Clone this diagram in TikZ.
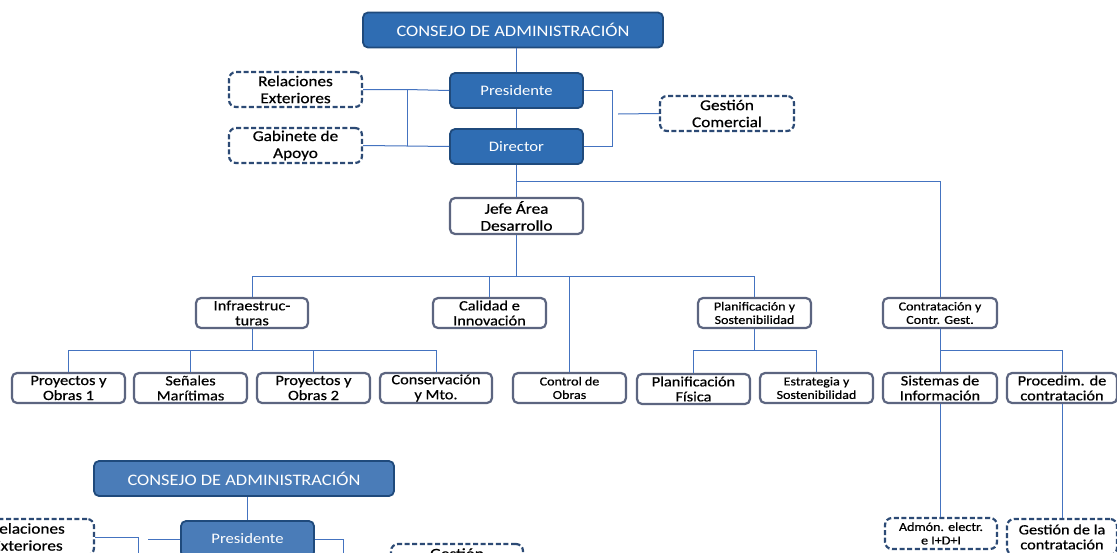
\documentclass[tikz,border=0pt]{standalone}
\usepackage{fontspec}
\setmainfont{Carlito}[FakeStretch=1.15,FakeBold=0.6]
\newfontfamily\lightf{Carlito}[FakeStretch=1.15]
\definecolor{cfill}{HTML}{2F6DB3}
\definecolor{cfillb}{HTML}{4A7CB8}
\definecolor{cbord}{HTML}{1F4A7C}
\definecolor{clink}{HTML}{4473C0}
\definecolor{cdash}{HTML}{2C4A75}
\definecolor{cgray}{HTML}{5C6580}
\begin{document}
\begin{tikzpicture}[x=1pt,y=-1pt,
  filled/.style={draw=cbord, fill=cfill, line width=1.8pt, rounded corners=5pt, text=white, align=center, inner sep=0pt},
  dbox/.style={draw=cdash, fill=white, line width=2.2pt, dash pattern=on 5pt off 2.6pt, rounded corners=7pt, align=center, inner sep=0pt},
  pbox/.style={draw=cgray, fill=white, line width=2.2pt, rounded corners=5pt, align=center, inner sep=0pt},
  conn/.style={draw=clink, line width=1pt},
  fbig/.style={font=\lightf\fontsize{16}{18}\selectfont},
  fmid/.style={font=\fontsize{15}{17}\selectfont},
  fnorm/.style={font=\fontsize{14.2}{15}\selectfont},
  fsmall/.style={font=\fontsize{12.2}{13.5}\selectfont},
  fpres/.style={font=\lightf\fontsize{14.5}{16}\selectfont},
]
\useasboundingbox (0,0) rectangle (1117,552);
\fill[white] (0,0) rectangle (1117,552);
\clip (0,0) rectangle (1117,552);

% ---------- top chart ----------
\node[filled, fbig, minimum width=300pt, minimum height=35pt] (consejo) at (513,30) {CONSEJO DE ADMINISTRACIÓN};
\node[filled, fpres, minimum width=133pt, minimum height=35pt] (pres) at (516.5,90.5) {Presidente};
\node[filled, fpres, minimum width=133pt, minimum height=35pt] (dir) at (516.5,146.5) {Director};
\node[dbox, fmid, minimum width=133pt, minimum height=35pt] (rel) at (295.5,89.5) {Relaciones\\Exteriores};
\node[dbox, fmid, minimum width=133pt, minimum height=35pt] (gab) at (295.5,145.5) {Gabinete de\\Apoyo};
\node[dbox, fmid, minimum width=134pt, minimum height=35pt] (gest) at (727,113.5) {Gestión\\Comercial};
\node[pbox, fmid, minimum width=133pt, minimum height=36pt] (jefe) at (516.5,216) {Jefe Área\\Desarrollo};

\node[pbox, fnorm, minimum width=112pt, minimum height=30pt] (infra) at (252,313) {Infraestruc-\\turas};
\node[pbox, fnorm, minimum width=113pt, minimum height=30pt] (cal) at (489.5,313) {Calidad e\\Innovación};
\node[pbox, fsmall, minimum width=113pt, minimum height=30pt] (plan) at (754.5,313) {Planificación y\\Sostenibilidad};
\node[pbox, fsmall, minimum width=114pt, minimum height=30pt] (contr) at (940,313) {Contratación y\\Contr. Gest.};

\node[pbox, fnorm, minimum width=113pt, minimum height=30pt] (po1) at (68.5,388) {Proyectos y\\Obras 1};
\node[pbox, fnorm, minimum width=113pt, minimum height=30pt] (sen) at (190.5,388) {Señales\\Marítimas};
\node[pbox, fnorm, minimum width=113pt, minimum height=30pt] (po2) at (313.5,388) {Proyectos y\\Obras 2};
\node[pbox, fnorm, minimum width=112pt, minimum height=30pt] (cons) at (436,388) {Conservación\\y Mto.};
\node[pbox, fsmall, minimum width=113pt, minimum height=30pt] (ctrl) at (569.5,388) {Control de\\Obras};
\node[pbox, fnorm, minimum width=113pt, minimum height=30pt] (pf) at (693.5,389) {Planificación\\Física};
\node[pbox, fsmall, minimum width=113pt, minimum height=30pt] (est) at (816.5,388) {Estrategia y\\Sostenibilidad};
\node[pbox, fnorm, minimum width=114pt, minimum height=30pt] (sis) at (940,388) {Sistemas de\\Información};
\node[pbox, fnorm, minimum width=110pt, minimum height=30pt] (proc) at (1062,388) {Procedim. de\\contratación};

\node[dbox, fsmall, minimum width=112pt, minimum height=31pt] (adm) at (941,533.5) {Admón. electr.\\e I+D+I};
\node[dbox, fnorm, minimum width=110pt, minimum height=36pt] (gdc) at (1062,537) {Gestión de la\\contratación};

% connectors top
\draw[conn] (pres.north) -- (pres.north |- consejo.south);
\draw[conn] (pres) -- (dir);
\coordinate (lt) at (407,89.5);
\coordinate (lb) at (407,146);
\draw[conn] (rel.east) -- (lt) -- (pres.west);
\draw[conn] (gab.east) -- (lb) -- (dir.west);
\draw[conn] (lt) -- (lb);
\coordinate (rt) at (612,90.5);
\coordinate (rb) at (612,146.5);
\draw[conn] (pres.east) -- (rt) -- (rb) -- (dir.east);
\coordinate (gl) at (618,114);
\draw[conn] (gl) -- (gest.west);

\coordinate (dj) at (516.5,181);
\draw[conn] (dir.south) -- (dj) -- (jefe.north);
\draw[conn] (dj) -| (contr.north);

\coordinate (jb) at (516.5,276);
\draw[conn] (jefe.south) -- (jb);
\draw[conn] (jb) -| (infra.north);
\draw[conn] (jb) -| (cal.north);
\draw[conn] (jb) -| (ctrl.north);
\draw[conn] (jb) -| (plan.north);

\coordinate (ib) at (252,350);
\draw[conn] (infra.south) -- (ib);
\draw[conn] (ib) -| (po1.north);
\draw[conn] (ib) -| (sen.north);
\draw[conn] (ib) -| (po2.north);
\draw[conn] (ib) -| (cons.north);

\coordinate (pb) at (754.5,350);
\draw[conn] (plan.south) -- (pb);
\draw[conn] (pb) -| (pf.north);
\draw[conn] (pb) -| (est.north);

\coordinate (cb) at (940,350);
\draw[conn] (contr.south) -- (sis.north);
\draw[conn] (cb) -| (proc.north);
\draw[conn] (sis.south) -- (sis.south |- adm.north);
\draw[conn] (proc.south) -- (gdc.north);

% ---------- bottom (partial) chart ----------
\node[filled, fill=cfillb, fbig, minimum width=300pt, minimum height=35pt] (consejo2) at (244,478.5) {CONSEJO DE ADMINISTRACIÓN};
\node[filled, fill=cfillb, fpres, minimum width=133pt, minimum height=36pt] (pres2) at (247.5,539) {Presidente};
\node[dbox, fmid, minimum width=133pt, minimum height=36pt] (rel2) at (27.5,537) {Relaciones\\Exteriores};
\node[dbox, fmid, minimum width=132pt, minimum height=36pt] (gest2) at (457,562) {Gestión\\Comercial};

\draw[conn] (pres2.north) -- (pres2.north |- consejo2.south);
\coordinate (l2) at (138,537);
\coordinate (l2b) at (138,560);
\draw[conn] (rel2.east) -- (l2) -- (l2b);
\coordinate (l3) at (148,539);
\draw[conn] (l3) -- (pres2.west);
\coordinate (r2) at (343,539);
\coordinate (r2b) at (343,560);
\draw[conn] (pres2.east) -- (r2) -- (r2b);
\end{tikzpicture}
\end{document}
